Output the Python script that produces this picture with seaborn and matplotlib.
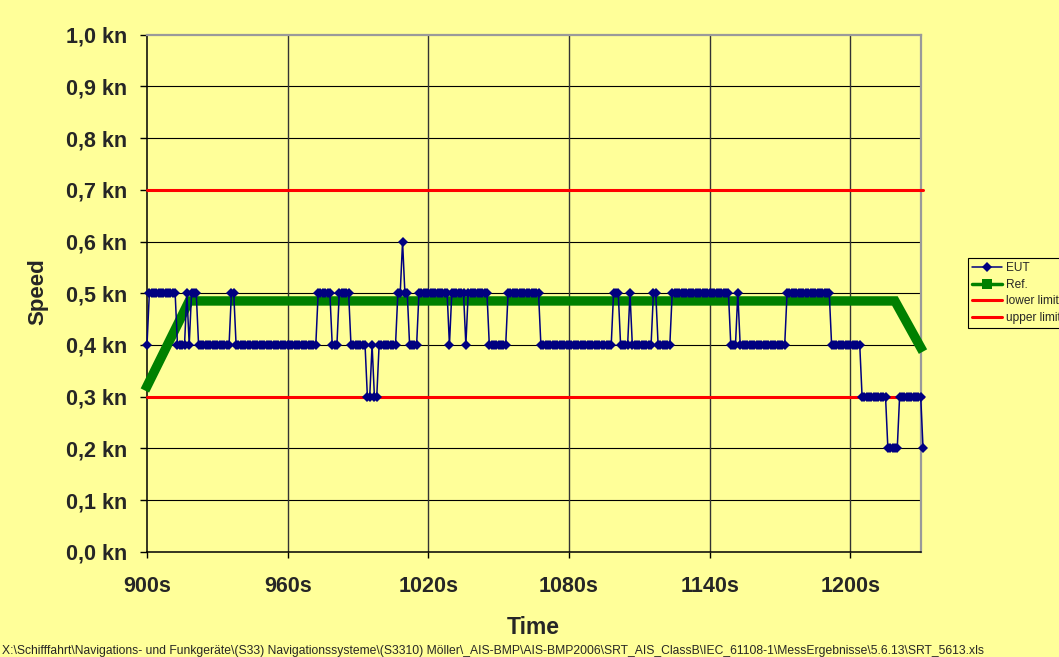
import numpy as np
import pandas as pd
import matplotlib
matplotlib.use("Agg")
import matplotlib.pyplot as plt
from matplotlib.lines import Line2D
import seaborn as sns

# ---------------- data ----------------
eut_start = 900          # s, one sample per second
eut_levels = [0.4, 0.5, 0.4, 0.5, 0.4, 0.5, 0.4, 0.5, 0.4, 0.5, 0.4, 0.5, 0.4, 0.3, 0.4,
              0.3, 0.4, 0.5, 0.6, 0.5, 0.4, 0.5, 0.4, 0.5, 0.4, 0.5, 0.4, 0.5, 0.4, 0.5,
              0.4, 0.5, 0.4, 0.5, 0.4, 0.5, 0.4, 0.5, 0.4, 0.5, 0.4, 0.3, 0.2, 0.3, 0.2]
eut_counts = [1, 12, 4, 1, 1, 3, 14, 2, 35, 6, 3, 5, 7, 2, 1,
              2, 8, 2, 1, 2, 4, 13, 1, 6, 1, 9, 8, 14, 31, 3,
              4, 1, 9, 2, 6, 25, 3, 1, 20, 19, 13, 11, 5, 10, 1]

ref_time = [900, 918, 1219, 1230]
ref_speed = [0.32, 0.485, 0.485, 0.395]

limit_time = [900, 1231]
lower_limit = [0.3, 0.3]
upper_limit = [0.7, 0.7]

x_ticks = [900, 960, 1020, 1080, 1140, 1200]
x_ticklabels = ["900s", "960s", "1020s", "1080s", "1140s", "1200s"]
y_ticks = [0.0, 0.1, 0.2, 0.3, 0.4, 0.5, 0.6, 0.7, 0.8, 0.9, 1.0]
y_ticklabels = ["0,0 kn", "0,1 kn", "0,2 kn", "0,3 kn", "0,4 kn", "0,5 kn",
                "0,6 kn", "0,7 kn", "0,8 kn", "0,9 kn", "1,0 kn"]

footer = ("X:\\Schifffahrt\\Navigations- und Funkgeräte\\(S33) Navigationssysteme\\(S3310) "
          "Möller\\_AIS-BMP\\AIS-BMP2006\\SRT_AIS_ClassB\\IEC_61108-1\\MessErgebnisse\\5.6.13\\SRT_5613.xls")

eut_speed = np.repeat(eut_levels, eut_counts)
eut_time = eut_start + np.arange(len(eut_speed))
eut_df = pd.DataFrame({"Time": eut_time, "Speed": eut_speed})
ref_df = pd.DataFrame({"Time": ref_time, "Speed": ref_speed})

# ---------------- style ----------------
sns.set_style("white")
plt.rcParams["font.family"] = ["Liberation Sans", "DejaVu Sans"]
BG = "#FFFF99"
NAVY = "#000080"
GREEN = "#008000"
RED = "#FF0000"

fig = plt.figure(figsize=(10.59, 6.57), dpi=100, facecolor=BG)
W, H = 1059, 657
L, R, T, B = 147, 920.7, 34.7, 551.7
ax = fig.add_axes([L / W, 1 - B / H, (R - L) / W, (B - T) / H])
ax.set_facecolor(BG)

# grid
for yv in y_ticks[1:-1]:
    ax.axhline(yv, color="#000000", lw=0.8, zorder=1)
for xv in x_ticks[1:]:
    ax.axvline(xv, color="#333333", lw=1.0, zorder=1)

# limits
sns.lineplot(x=limit_time, y=lower_limit, ax=ax, color=RED, lw=2.2, clip_on=False, zorder=3)
sns.lineplot(x=limit_time, y=upper_limit, ax=ax, color=RED, lw=2.2, clip_on=False, zorder=3)

# reference (thick green band)
sns.lineplot(data=ref_df, x="Time", y="Speed", ax=ax, color=GREEN, lw=6.8,
             solid_capstyle="projecting", solid_joinstyle="miter", clip_on=False,
             estimator=None, zorder=4)

# EUT
sns.lineplot(data=eut_df, x="Time", y="Speed", ax=ax, color=NAVY, lw=1.1,
             marker="D", markersize=5.2, markeredgewidth=0, estimator=None,
             clip_on=False, zorder=5)

ax.set_xlim(900, 1230)
ax.set_ylim(0, 1.0)
ax.set_xticks(x_ticks)
ax.set_xticklabels(x_ticklabels, fontsize=15.5, fontweight="bold")
ax.set_yticks(y_ticks)
ax.set_yticklabels(y_ticklabels, fontsize=15.5, fontweight="bold")
ax.tick_params(axis="y", direction="out", length=5.3, width=1, color="black", pad=9, left=True)
ax.tick_params(axis="x", direction="out", length=4.5, width=1, color="black", pad=13, bottom=True)
ax.set_xlabel("")
ax.set_ylabel("")

for s in ["left", "bottom"]:
    ax.spines[s].set_color("black")
    ax.spines[s].set_linewidth(1.1)
for s in ["top", "right"]:
    ax.spines[s].set_color("#9A9A9A")
    ax.spines[s].set_linewidth(1.6)
    ax.spines[s].set_visible(True)

fig.text(38 / W, 1 - 292 / H, "Speed", rotation=90, ha="center", va="center",
         fontsize=16, fontweight="bold")
fig.text(533 / W, 1 - 627 / H, "Time", ha="center", va="center",
         fontsize=16.5, fontweight="bold")
fig.text(2 / W, 1 - 651 / H, footer, ha="left", va="center", fontsize=8.7)

handles = [
    Line2D([], [], color=NAVY, lw=1.1, marker="D", markersize=5.2, markeredgewidth=0),
    Line2D([], [], color=GREEN, lw=2.5, marker="s", markersize=6.5, markeredgewidth=0),
    Line2D([], [], color=RED, lw=2.2),
    Line2D([], [], color=RED, lw=2.2),
]
leg = fig.legend(handles, ["EUT", "Ref.", "lower limit", "upper limit"],
                 loc="upper left", bbox_to_anchor=(968 / W, 1 - 258 / H),
                 fontsize=8.6, frameon=True, fancybox=False, framealpha=1,
                 facecolor=BG, edgecolor="black", handlelength=2.5,
                 handletextpad=0.3, labelspacing=0.38, borderpad=0.35,
                 borderaxespad=0)
leg.get_frame().set_linewidth(0.8)

fig.savefig("out.png", dpi=100, facecolor=BG)
